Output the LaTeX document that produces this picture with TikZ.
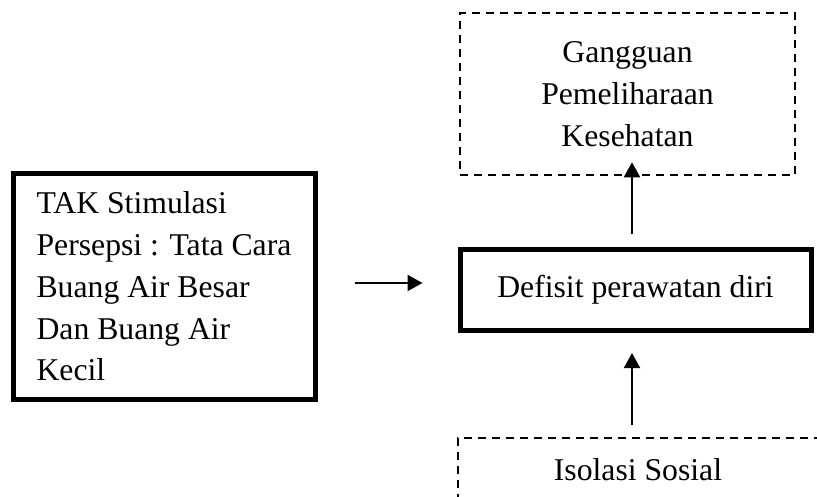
\documentclass[tikz,border=0pt]{standalone}
\usepackage{fontspec}
\setmainfont{Liberation Serif}
\usepackage{tikz}
\usetikzlibrary{arrows.meta}

\tikzset{
  boldbox/.style={draw, line width=5pt, rectangle},
  dashbox/.style={draw, line width=1.6pt, dash pattern=on 8pt off 6pt, rectangle},
  arr/.style={-{Triangle[length=15pt,width=16pt]}, line width=2.2pt}
}

\begin{document}
\begin{tikzpicture}[x=1pt,y=-1pt]
\fontsize{31.7}{41.8}\selectfont
\clip (0,0) rectangle (817,497);
\useasboundingbox (0,0) rectangle (817,497);
%kotak kiri
\node[boldbox, minimum width=302pt, minimum height=225pt, align=left] (tak) at (164,286.5)
  {TAK Stimulasi\\Persepsi : Tata Cara\\Buang Air Besar\\Dan Buang Air\\Kecil};
%kotak tengah
\node[boldbox, minimum width=351pt, minimum height=80pt] (defisit) at (635.5,290)
  {Defisit perawatan diri};
%kotak atas
\node[dashbox, minimum width=335pt, minimum height=162pt, align=center] (gangguan) at (627.5,94)
  {Gangguan\\Pemeliharaan\\Kesehatan};
%kotak bawah
\node[dashbox, minimum width=360pt, minimum height=64pt] (isolasi) at (638,470)
  {Isolasi Sosial};
%panah
\draw[arr] ([xshift=37.5pt,yshift=3.5pt]tak.east) -- ([xshift=-35pt,yshift=7pt]defisit.west);
\draw[arr] ([xshift=-3.5pt,yshift=13pt]defisit.north) -- ([xshift=4.5pt,yshift=13.5pt]gangguan.south);
\draw[arr] ([xshift=-6pt,yshift=12pt]isolasi.north) -- ([xshift=-3.5pt,yshift=-20.5pt]defisit.south);
\end{tikzpicture}
\end{document}
